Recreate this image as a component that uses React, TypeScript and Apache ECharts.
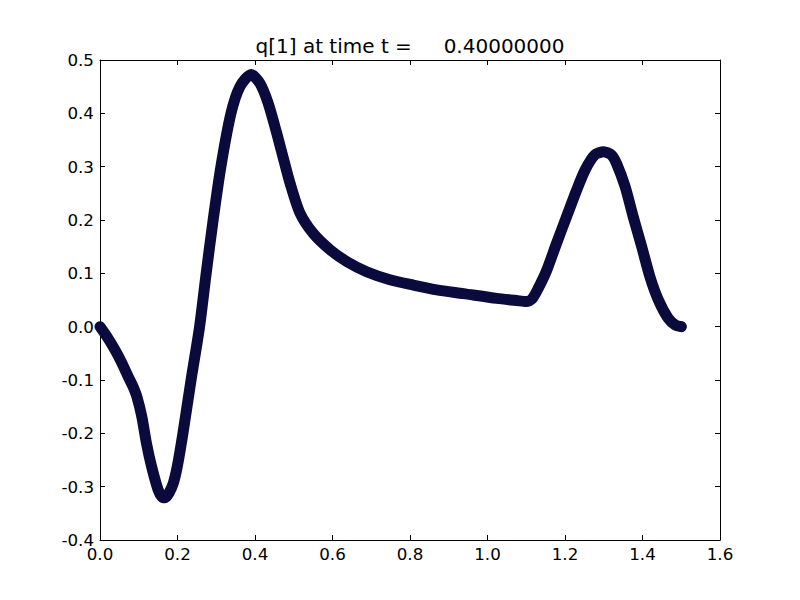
import React, { useEffect, useRef } from "react";
import * as echarts from "echarts";

const titleText = "q[1] at time t =     0.40000000";
const xTicks = [0, 0.2, 0.4, 0.6, 0.8, 1.0, 1.2, 1.4, 1.6];
const yTicks = [-0.4, -0.3, -0.2, -0.1, 0.0, 0.1, 0.2, 0.3, 0.4, 0.5];

const xs = [
  0.0, 0.02, 0.039, 0.055, 0.073, 0.085, 0.095, 0.108, 0.12, 0.133, 0.15, 0.16, 0.168,
  0.178, 0.189, 0.2, 0.214, 0.235, 0.257, 0.274, 0.292, 0.312, 0.338, 0.361, 0.39,
  0.413, 0.434, 0.456, 0.473, 0.49, 0.516, 0.55, 0.594, 0.637, 0.688, 0.748, 0.809,
  0.869, 0.938, 1.024, 1.075, 1.1, 1.115, 1.131, 1.153, 1.178, 1.204, 1.23, 1.252,
  1.277, 1.3, 1.32, 1.333, 1.355, 1.376, 1.398, 1.419, 1.441, 1.466, 1.485, 1.5,
];
const q1 = [
  0.0, -0.021, -0.044, -0.066, -0.094, -0.112, -0.131, -0.169, -0.219, -0.262, -0.306,
  -0.319, -0.321, -0.312, -0.294, -0.26, -0.2, -0.1, 0.0, 0.1, 0.2, 0.3, 0.4, 0.45,
  0.473, 0.456, 0.419, 0.363, 0.316, 0.27, 0.213, 0.175, 0.144, 0.122, 0.103, 0.088,
  0.078, 0.069, 0.062, 0.053, 0.049, 0.047, 0.052, 0.072, 0.106, 0.156, 0.206, 0.256,
  0.294, 0.322, 0.328, 0.322, 0.306, 0.263, 0.206, 0.15, 0.094, 0.05, 0.016, 0.003, 0.0,
];
const lastPoint = [1.5, 0.0];

const FONT = "DejaVu Sans";

export default function App() {
  const ref = useRef<HTMLDivElement>(null);
  useEffect(() => {
    if (!ref.current) return;
    const chart = echarts.init(ref.current, undefined, { renderer: "svg" });
    const axisCommon = {
      type: "value" as const,
      axisLine: { show: true, onZero: false, lineStyle: { color: "#000", width: 1 } },
      axisTick: { show: true, inside: true, length: 5, lineStyle: { color: "#000", width: 1 } },
      splitLine: { show: false },
    };
    const labelStyle = { color: "#000", fontFamily: FONT, fontSize: 16.7 };
    const data = xs.map((x, i) => [x, q1[i]]);
    chart.setOption({
      animation: false,
      backgroundColor: "#fff",
      grid: { left: 100, right: 80, top: 60, bottom: 60, containLabel: false },
      graphic: [
        {
          type: "text",
          x: 410,
          y: 46,
          style: {
            text: titleText,
            fill: "#000",
            fontFamily: FONT,
            fontSize: 20,
            textAlign: "center",
            textVerticalAlign: "middle",
          },
        },
      ],
      xAxis: [
        {
          ...axisCommon,
          min: xTicks[0],
          max: xTicks[xTicks.length - 1],
          interval: 0.2,
          position: "bottom",
          axisLabel: { ...labelStyle, margin: 5, formatter: (v: number) => v.toFixed(1) },
        },
        {
          ...axisCommon,
          min: xTicks[0],
          max: xTicks[xTicks.length - 1],
          interval: 0.2,
          position: "top",
          axisLabel: { show: false },
        },
      ],
      yAxis: [
        {
          ...axisCommon,
          min: yTicks[0],
          max: yTicks[yTicks.length - 1],
          interval: 0.1,
          position: "left",
          axisLabel: { ...labelStyle, margin: 6, formatter: (v: number) => v.toFixed(1) },
        },
        {
          ...axisCommon,
          min: yTicks[0],
          max: yTicks[yTicks.length - 1],
          interval: 0.1,
          position: "right",
          axisLabel: { show: false },
        },
      ],
      series: [
        {
          type: "line",
          xAxisIndex: 0,
          yAxisIndex: 0,
          data,
          smooth: 0.25,
          showSymbol: false,
          clip: true,
          lineStyle: { color: "#0a0a3c", width: 11, cap: "round", join: "round" },
        },
        {
          type: "scatter",
          xAxisIndex: 0,
          yAxisIndex: 0,
          data: [lastPoint],
          symbolSize: 10,
          itemStyle: { color: "#0000ff", borderColor: "#000", borderWidth: 0.6 },
        },
      ],
    });
    return () => chart.dispose();
  }, []);
  return (
    <div
      ref={ref}
      style={{ position: "fixed", left: 0, top: 0, width: 800, height: 600, background: "#fff" }}
    />
  );
}
